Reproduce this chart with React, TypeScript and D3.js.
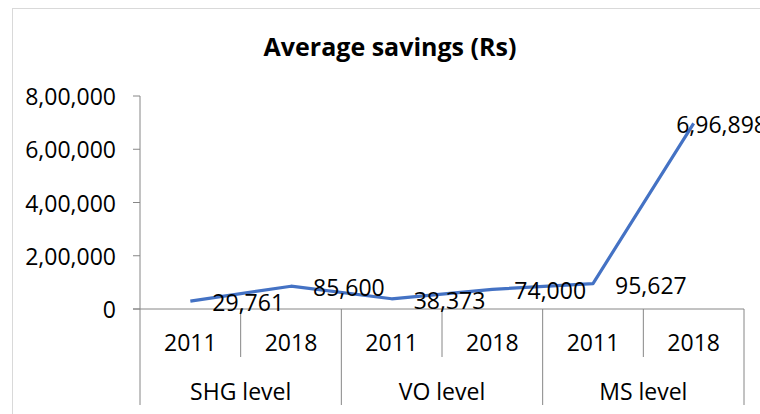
import * as React from "react";
import * as d3 from "d3";

const title = "Average savings (Rs)";
const groups = ["SHG level", "VO level", "MS level"];
const years = ["2011", "2018"];
const savings = [29761, 85600, 38373, 74000, 95627, 696898];
const yTicks = [0, 200000, 400000, 600000, 800000];

const W = 760;
const H = 414;
const FONT = "'Open Sans', 'Liberation Sans', sans-serif";

// Indian grouping: 6,96,898 / 8,00,000
const inr = (v: number) => {
  const s = Math.round(v).toString();
  if (s.length <= 3) return s;
  const last = s.slice(-3);
  const rest = s.slice(0, -3).replace(/\B(?=(\d{2})+(?!\d))/g, ",");
  return rest + "," + last;
};

// rough width of digit strings at the label font size
const textW = (t: string, size: number) =>
  t.split("").reduce((a, c) => a + (c === "," ? 0.258 : 0.572), 0) * size;

const App = () => {
  const left = 140, right = 744, top = 96, bottom = 309;
  const cats = groups.flatMap((g) => years.map((y) => g + "|" + y));

  const x = d3.scaleBand<string>().domain(cats).range([left, right]).padding(0);
  const gx = d3.scaleBand<string>().domain(groups).range([left, right]).padding(0);
  const y = d3.scaleLinear().domain([0, 800000]).range([bottom, top]);

  const pts: [number, number][] = savings.map((v, i) => [x(cats[i])! + x.bandwidth() / 2, y(v)]);
  const line = d3.line()(pts) || "";

  const axisCol = "#868686";
  const fs = 23;

  return (
    <svg width={W} height={H} style={{ position: "absolute", left: 0, top: 0 }} fontFamily={FONT}>
      <rect x={0} y={0} width={W} height={H} fill="#fff" />
      <rect x={12.5} y={8.5} width={W + 20} height={H + 20} fill="none" stroke="#d9d9d9" />
      <text x={390} y={56} textAnchor="middle" fontSize={25} fontWeight="bold" fill="#000">
        {title}
      </text>

      {/* value axis */}
      <line x1={left} x2={left} y1={top} y2={bottom} stroke={axisCol} />
      {yTicks.map((t) => (
        <g key={t}>
          <line x1={left - 7} x2={left} y1={y(t)} y2={y(t)} stroke={axisCol} />
          <text x={116} y={y(t)} textAnchor="end" dominantBaseline="central" fontSize={fs}>
            {inr(t)}
          </text>
        </g>
      ))}

      {/* category axis, two levels */}
      <line x1={left - 7} x2={right} y1={bottom} y2={bottom} stroke={axisCol} />
      {cats.map((c, i) =>
        i % 2 === 1 ? (
          <line key={"s" + c} x1={x(c)!} x2={x(c)!} y1={bottom} y2={357} stroke={axisCol} />
        ) : null
      )}
      {[...groups.map((g) => gx(g)!), right].map((gxp, i) => (
        <line key={"g" + i} x1={gxp} x2={gxp} y1={bottom} y2={405} stroke={axisCol} />
      ))}
      {cats.map((c) => (
        <text key={"y" + c} x={x(c)! + x.bandwidth() / 2} y={342} textAnchor="middle"
          dominantBaseline="central" fontSize={fs}>
          {c.split("|")[1]}
        </text>
      ))}
      {groups.map((g) => (
        <text key={"gl" + g} x={gx(g)! + gx.bandwidth() / 2} y={391} textAnchor="middle"
          dominantBaseline="central" fontSize={fs}>
          {g}
        </text>
      ))}

      <path d={line} fill="none" stroke="#4472C4" strokeWidth={3.2} strokeLinejoin="round" />

      {savings.map((v, i) => {
        const t = inr(v);
        const w = textW(t, fs);
        const lx = Math.min(pts[i][0] + 22, right + 23 - w);
        return (
          <text key={"d" + i} x={lx} y={pts[i][1] + 1} dominantBaseline="central" fontSize={fs}>
            {t}
          </text>
        );
      })}
    </svg>
  );
};

export default App;
